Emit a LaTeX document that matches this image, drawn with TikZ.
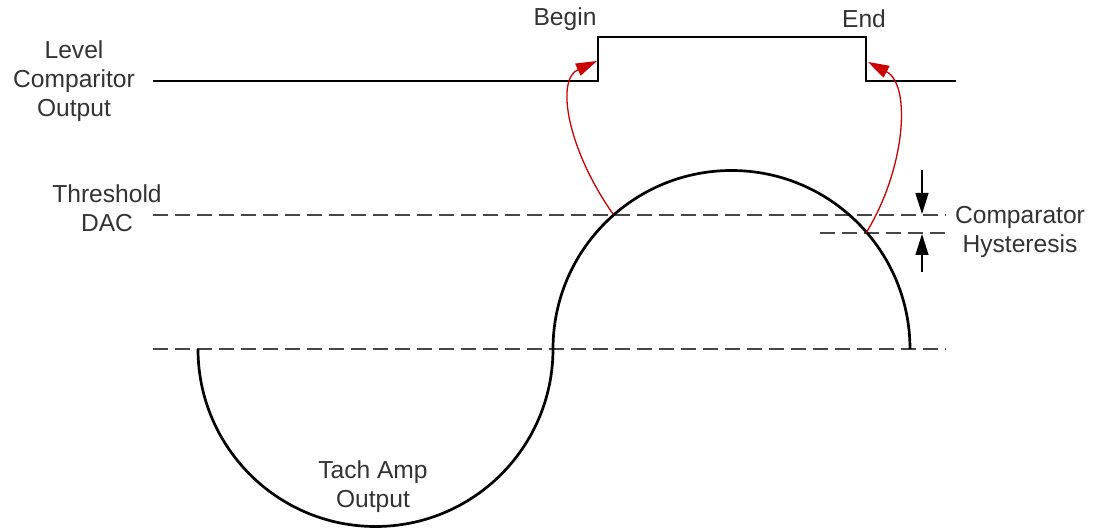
\documentclass[tikz,border=0pt]{standalone}
\usepackage{fontspec}
\setmainfont{Liberation Sans}
\usetikzlibrary{arrows.meta}
\definecolor{trigred}{RGB}{204,0,0}
\definecolor{dashgrey}{RGB}{70,70,70}
\definecolor{labelgrey}{RGB}{51,51,51}
\tikzset{
  signal/.style={line width=1.35pt, black},
  level/.style={line width=1.1pt, dashgrey, dash pattern=on 7.5pt off 3.5pt},
  trig/.style={line width=0.65pt, trigred, -{Triangle[length=10.5pt,width=6.5pt]}},
  hyst/.style={line width=0.65pt, black, -{Triangle[length=10.5pt,width=6.5pt]}},
  lbl/.style={align=center, text=labelgrey, inner sep=0pt, font=\fontsize{12.3}{14.5}\selectfont},
}

\begin{document}
\begin{tikzpicture}[x=0.5pt,y=-0.5pt]
\useasboundingbox (0,0) rectangle (1098,529);
\coordinate (lvlL) at (153,81);
\coordinate (riseT) at (598,37);
\coordinate (fallT) at (866,37);
\coordinate (lvlR) at (956,81);
\coordinate (thL) at (153,215);
\coordinate (thR) at (946,215);
\coordinate (hyL) at (820,233);
\coordinate (hyR) at (946,233);
\coordinate (zeroL) at (153,349);
\coordinate (zeroR) at (946,349);
\coordinate (sinA) at (198,349);
\coordinate (sinB) at (553,349);
\coordinate (begS) at (613,214);
\coordinate (begT) at (597,61);
\coordinate (endS) at (866,233);
\coordinate (endT) at (868,62);
\coordinate (hyTa) at (922,170);
\coordinate (hyTb) at (922,214);
\coordinate (hyBa) at (922,272);
\coordinate (hyBb) at (922,234);
\draw[signal] (lvlL) -| (riseT) -- (fallT) |- (lvlR);
\draw[level] (thL) -- (thR);
\draw[level] (hyL) -- (hyR);
\draw[level] (zeroL) -- (zeroR);
\draw[signal] (sinA) arc[start angle=180, end angle=0, radius=177.5];
\draw[signal] (sinB) arc[start angle=180, end angle=360, radius=178.5];
\draw[trig] (begS) .. controls (568,150) and (555,80) .. (begT);
\draw[trig] (endS) .. controls (905,170) and (912,85) .. (endT);
\draw[hyst] (hyTa) -- (hyTb);
\draw[hyst] (hyBa) -- (hyBb);
\node[lbl] (begin) at (565,19) {Begin};
\node[lbl] (end) at (864,19) {End};
\node[lbl] (lco) at (74,81) {Level\\Comparitor\\Output};
\node[lbl] (dac) at (107,208) {Threshold\\DAC};
\node[lbl] (hyst) at (1020,232) {Comparator\\Hysteresis};
\node[lbl] (tach) at (373,487) {Tach Amp\\Output};
\end{tikzpicture}
\end{document}
